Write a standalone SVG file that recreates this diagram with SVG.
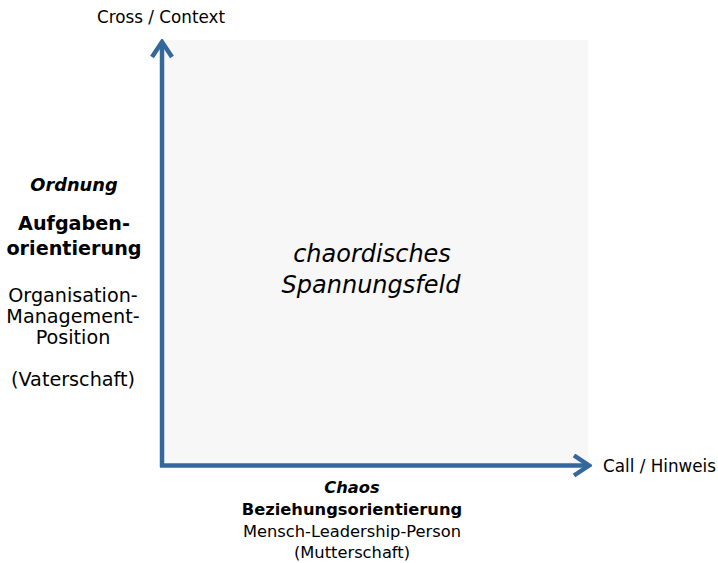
<svg xmlns="http://www.w3.org/2000/svg" width="718" height="563" viewBox="0 0 718 563">
  <style>
    text { font-family: "DejaVu Sans", Verdana, sans-serif; fill: #000; }
    .lbl { font-size: 16.8px; }
    .side { font-size: 19.2px; text-anchor: middle; }
    .bot { font-size: 16.3px; text-anchor: middle; }
    .b { font-weight: bold; }
    .bi { font-weight: bold; font-style: italic; }
    .side.bi { font-size: 17.8px; }
    .field { font-size: 24px; font-style: italic; text-anchor: middle; }
    .axis { stroke: #34679c; stroke-width: 4.5; fill: none; }
  </style>
  <defs>
    <marker id="chev" viewBox="0 0 20 24" refX="17" refY="12" markerWidth="20" markerHeight="24" markerUnits="userSpaceOnUse" orient="auto">
      <path d="M2,2 L17,12 L2,22" fill="none" stroke="#34679c" stroke-width="4.5" stroke-linecap="butt" stroke-linejoin="miter"/>
    </marker>
  </defs>

  <!-- field area -->
  <g id="field">
    <rect x="164" y="40" width="424" height="423" fill="#f7f7f7"/>
    <text class="field" x="372" y="262">chaordisches</text>
    <text class="field" x="371" y="293">Spannungsfeld</text>
  </g>

  <!-- axes -->
  <g id="connectors">
    <path class="axis" d="M162,467 L162,42" marker-end="url(#chev)"/>
    <path class="axis" d="M160,465.5 L589,465.5" marker-end="url(#chev)"/>
  </g>

  <g id="y-label">
    <text class="lbl" x="97" y="23">Cross / Context</text>
  </g>
  <g id="x-label">
    <text class="lbl" x="603" y="472">Call / Hinweis</text>
  </g>

  <g id="ordnung">
    <text class="side bi" x="74" y="191">Ordnung</text>
    <text class="side b" x="74" y="230">Aufgaben-</text>
    <text class="side b" x="74" y="255">orientierung</text>
    <text class="side" x="73" y="302">Organisation-</text>
    <text class="side" x="73" y="323">Management-</text>
    <text class="side" x="73" y="344">Position</text>
    <text class="side" x="73" y="386">(Vaterschaft)</text>
  </g>

  <g id="chaos">
    <text class="bot bi" x="352" y="493">Chaos</text>
    <text class="bot b" x="352" y="515">Beziehungsorientierung</text>
    <text class="bot" x="352" y="537">Mensch-Leadership-Person</text>
    <text class="bot" x="352" y="558">(Mutterschaft)</text>
  </g>
</svg>
